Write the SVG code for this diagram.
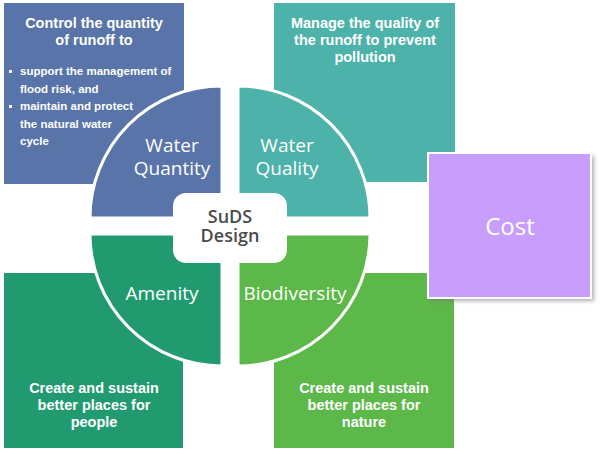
<svg xmlns="http://www.w3.org/2000/svg" width="600" height="454" viewBox="0 0 600 454">
<defs>
<style>
.bt{font-family:"Liberation Sans",Arial,sans-serif;font-weight:bold;fill:#fff;}
.hd{font-size:14.5px;text-anchor:middle;}
.bl{font-size:11.5px;}
.ql{font-family:"Open Sans","Liberation Sans",sans-serif;font-size:19px;fill:#fff;text-anchor:middle;}
.q{stroke:#fff;stroke-width:3;}
</style>
<filter id="sh" x="-10%" y="-10%" width="130%" height="130%"><feGaussianBlur stdDeviation="2"/></filter>
</defs>
<rect width="600" height="454" fill="#fff"/>
<g id="box-quantity">
<rect x="4" y="3" width="180" height="181" fill="#5874A8"/>
<text class="bt hd" x="94" y="28">Control the quantity</text>
<text class="bt hd" x="94" y="45">of runoff to</text>
<rect x="9" y="70" width="3" height="3" fill="#fff"/>
<text class="bt bl" x="20" y="75">support the management of</text>
<text class="bt bl" x="20" y="93">flood risk, and</text>
<rect x="9" y="105" width="3" height="3" fill="#fff"/>
<text class="bt bl" x="20" y="110">maintain and protect</text>
<text class="bt bl" x="20" y="128">the natural water</text>
<text class="bt bl" x="20" y="145">cycle</text>
</g>
<g id="box-quality">
<rect x="274" y="3" width="181" height="179" fill="#4DB2A9"/>
<text class="bt hd" x="365" y="28">Manage the quality of</text>
<text class="bt hd" x="365" y="45">the runoff to prevent</text>
<text class="bt hd" x="365" y="62">pollution</text>
</g>
<g id="box-amenity">
<rect x="4" y="273" width="179" height="175" fill="#219A6F"/>
<text class="bt hd" x="94" y="393">Create and sustain</text>
<text class="bt hd" x="94" y="410">better places for</text>
<text class="bt hd" x="94" y="427">people</text>
</g>
<g id="box-biodiversity">
<rect x="274" y="273" width="180" height="175" fill="#5CB849"/>
<text class="bt hd" x="364" y="393">Create and sustain</text>
<text class="bt hd" x="364" y="410">better places for</text>
<text class="bt hd" x="364" y="427">nature</text>
</g>
<g id="q-quantity">
<path class="q" d="M222,218 L90,218 A132,132 0 0 1 222,86 Z" fill="#5874A8"/>
<text class="ql" x="172" y="152">Water</text>
<text class="ql" x="172" y="175">Quantity</text>
</g>
<g id="q-quality">
<path class="q" d="M238,218 L238,86 A132,132 0 0 1 370,218 Z" fill="#4DB2A9"/>
<text class="ql" x="287" y="152">Water</text>
<text class="ql" x="287" y="175">Quality</text>
</g>
<g id="q-amenity">
<path class="q" d="M222,234 L222,366 A132,132 0 0 1 90,234 Z" fill="#219A6F"/>
<text class="ql" x="162" y="300">Amenity</text>
</g>
<g id="q-biodiversity">
<path class="q" d="M238,234 L370,234 A132,132 0 0 1 238,366 Z" fill="#5CB849"/>
<text class="ql" x="295" y="300">Biodiversity</text>
</g>
<g id="suds">
<rect x="173" y="193" width="114" height="70" rx="13" fill="#fff"/>
<text x="230" y="223" font-family="'Open Sans','Liberation Sans',sans-serif" font-weight="600" font-size="18" fill="#4A4A4A" text-anchor="middle">SuDS</text>
<text x="230" y="242" font-family="'Open Sans','Liberation Sans',sans-serif" font-weight="600" font-size="18" fill="#4A4A4A" text-anchor="middle">Design</text>
</g>
<g id="cost">
<rect x="431" y="156" width="163" height="145" fill="#777" opacity="0.6" filter="url(#sh)"/>
<rect x="428" y="153" width="163" height="145" fill="#C79EFB" stroke="#fff" stroke-width="2"/>
<text x="510" y="235" font-family="'Open Sans','Liberation Sans',sans-serif" font-size="24" fill="#fff" text-anchor="middle">Cost</text>
</g>
<g id="connectors"/>
</svg>
